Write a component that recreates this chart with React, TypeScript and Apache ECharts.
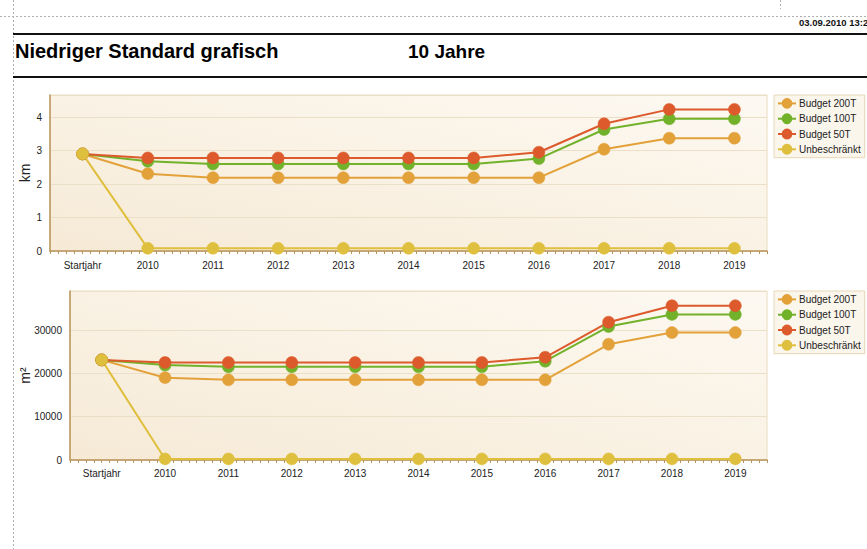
import React, { useEffect, useRef } from "react";
import * as echarts from "echarts";

const categories = ["Startjahr", "2010", "2011", "2012", "2013", "2014", "2015", "2016", "2017", "2018", "2019"];
const seriesNames = ["Budget 200T", "Budget 100T", "Budget 50T", "Unbeschränkt"];
const seriesColors = ["#e3a13a", "#72b22a", "#dc5a2c", "#dfbf3e"];

const kmBudget200 = [2.9, 2.31, 2.19, 2.19, 2.19, 2.19, 2.19, 2.19, 3.04, 3.37, 3.37];
const kmBudget100 = [2.9, 2.68, 2.6, 2.6, 2.6, 2.6, 2.6, 2.76, 3.63, 3.95, 3.95];
const kmBudget50 = [2.9, 2.78, 2.78, 2.78, 2.78, 2.78, 2.78, 2.95, 3.8, 4.23, 4.23];
const kmUnbeschraenkt = [2.9, 0.08, 0.08, 0.08, 0.08, 0.08, 0.08, 0.08, 0.08, 0.08, 0.08];

const m2Budget200 = [23100, 19000, 18500, 18500, 18500, 18500, 18500, 18500, 26700, 29400, 29400];
const m2Budget100 = [23100, 21900, 21500, 21500, 21500, 21500, 21500, 22800, 30800, 33600, 33600];
const m2Budget50 = [23100, 22500, 22500, 22500, 22500, 22500, 22500, 23700, 31800, 35600, 35600];
const m2Unbeschraenkt = [23100, 250, 250, 250, 250, 250, 250, 250, 250, 250, 250];

const kmTicks = { min: 0, max: 4.66, interval: 1 };
const m2Ticks = { min: 0, max: 39000, interval: 10000 };

const FONT = "Liberation Sans";

export default function App() {
  const ref = useRef<HTMLDivElement>(null);
  useEffect(() => {
    const chart = echarts.init(ref.current!, undefined, { renderer: "svg" });
    const plotBg = new echarts.graphic.LinearGradient(0, 1, 1, 0, [
      { offset: 0, color: "#f6ead6" },
      { offset: 1, color: "#fdf9f2" },
    ]);
    const gridCommon = {
      show: true,
      backgroundColor: plotBg,
      borderColor: "#eadcc0",
      borderWidth: 1,
      right: 100,
      containLabel: false,
    };
    const axisLineColor = "#b8955a";
    const makeCatAxis = (gridIndex: number, margin: number) => ({
      type: "category",
      gridIndex,
      data: categories,
      boundaryGap: true,
      axisLine: { onZero: false, lineStyle: { color: axisLineColor, width: 1.5 } },
      axisTick: { alignWithLabel: true, length: 5, lineStyle: { color: axisLineColor } },
      axisLabel: { color: "#222", fontFamily: FONT, fontSize: 10, margin },
      splitLine: { show: false },
    });
    const makeMinorAxis = (gridIndex: number) => ({
      type: "value",
      gridIndex,
      min: -0.5,
      max: 10.5,
      interval: 0.125,
      position: "bottom",
      axisLine: { show: false, onZero: false },
      axisTick: { show: true, length: 3, lineStyle: { color: axisLineColor } },
      axisLabel: { show: false },
      splitLine: { show: false },
    });
    const makeValAxis = (gridIndex: number, t: any, name: string, nameGap: number) => ({
      type: "value",
      gridIndex,
      min: t.min,
      max: t.max,
      interval: t.interval,
      position: "left",
      name,
      nameLocation: "middle",
      nameGap,
      nameRotate: 90,
      nameMoveOverlap: false,
      nameTextStyle: { fontFamily: FONT, fontSize: 14, color: "#222" },
      axisLine: { show: true, onZero: false, lineStyle: { color: axisLineColor, width: 1.5 } },
      axisTick: { show: false },
      axisLabel: {
        color: "#222",
        fontFamily: FONT,
        fontSize: 10,
        margin: 8,
        formatter: (v: number) => (Math.abs(v / t.interval - Math.round(v / t.interval)) < 1e-6 ? String(v) : ""),
      },
      splitLine: { lineStyle: { color: "#ecdfc8", width: 1 } },
    });
    const dataSets = [
      [kmBudget200, kmBudget100, kmBudget50, kmUnbeschraenkt],
      [m2Budget200, m2Budget100, m2Budget50, m2Unbeschraenkt],
    ];
    const series: any[] = [];
    dataSets.forEach((set, gi) => {
      set.forEach((d, si) => {
        series.push({
          type: "line",
          name: seriesNames[si],
          xAxisIndex: gi,
          yAxisIndex: gi,
          data: d,
          symbol: "circle",
          symbolSize: 12,
          showAllSymbol: true,
          color: seriesColors[si],
          lineStyle: { color: seriesColors[si], width: 2 },
          itemStyle: { color: seriesColors[si], borderColor: seriesColors[si], borderWidth: 0.5 },
          emphasis: { disabled: true },
        });
      });
    });
    const legendCommon = {
      orient: "vertical",
      left: 774,
      width: 84,
      data: seriesNames,
      itemWidth: 18,
      itemHeight: 11,
      itemGap: 4.5,
      padding: [3, 4, 3, 3],
      backgroundColor: "#fbf6ec",
      borderColor: "#e6d6b6",
      borderWidth: 1,
      borderRadius: 0,
      textStyle: { fontFamily: FONT, fontSize: 10, color: "#222", padding: [0, 0, 0, -2] },
      selectedMode: false,
    };
    chart.setOption({
      animation: false,
      backgroundColor: "#ffffff",
      grid: [
        { ...gridCommon, left: 50, top: 95, bottom: 298 },
        { ...gridCommon, left: 70, top: 291, bottom: 89 },
      ],
      xAxis: [makeCatAxis(0, 9), makeCatAxis(1, 8), makeMinorAxis(0), makeMinorAxis(1)],
      yAxis: [makeValAxis(0, kmTicks, "km", 18), makeValAxis(1, m2Ticks, "m²", 38)],
      legend: [
        { ...legendCommon, top: 95 },
        { ...legendCommon, top: 291 },
      ],
      series,
      graphic: [
        { type: "line", shape: { x1: 0, y1: 16.5, x2: 867, y2: 16.5 }, style: { stroke: "#b0b0b0", lineWidth: 1, lineDash: [2, 2] } },
        { type: "line", shape: { x1: 13.5, y1: 0, x2: 13.5, y2: 549 }, style: { stroke: "#b0b0b0", lineWidth: 1, lineDash: [2, 2] } },
        { type: "line", shape: { x1: 780.5, y1: 0, x2: 780.5, y2: 9 }, style: { stroke: "#b0b0b0", lineWidth: 1, lineDash: [2, 2] } },
        { type: "line", shape: { x1: 13, y1: 34, x2: 867, y2: 34 }, style: { stroke: "#111", lineWidth: 2 } },
        { type: "line", shape: { x1: 13, y1: 77, x2: 867, y2: 77 }, style: { stroke: "#111", lineWidth: 2 } },
        { type: "text", x: 799, y: 22, style: { text: "03.09.2010 13:2", font: `bold 9.5px "${FONT}"`, fill: "#111", textVerticalAlign: "middle" } },
        { type: "text", x: 15, y: 51, style: { text: "Niedriger Standard grafisch", font: `bold 20px "${FONT}"`, fill: "#000", textVerticalAlign: "middle" } },
        { type: "text", x: 408, y: 51, style: { text: "10 Jahre", font: `bold 19px "${FONT}"`, fill: "#000", textVerticalAlign: "middle" } },
      ],
    });
    return () => chart.dispose();
  }, []);
  return <div ref={ref} style={{ position: "fixed", left: 0, top: 0, width: 867, height: 549, background: "#fff" }} />;
}
